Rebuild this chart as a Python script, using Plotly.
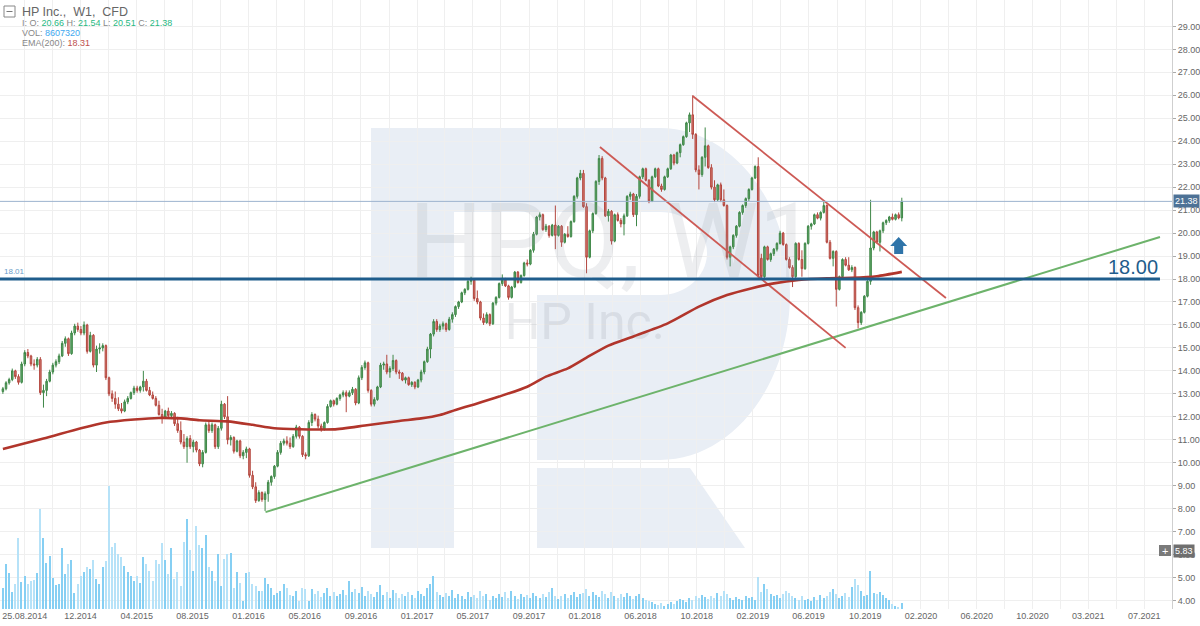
import pandas as pd
import plotly.graph_objects as go

# ---------------- data ----------------
first_week = "2014-07-07"
n_weeks = 289
weeks = pd.date_range(first_week, periods=n_weeks, freq="7D")

opens = [
    13.10,13.22,13.48,13.62,14.00,13.75,13.50,14.30,14.80,14.65,  # 0
    14.30,14.25,14.50,13.05,13.15,13.55,13.95,14.25,14.40,14.65,  # 10
    15.20,15.40,14.75,15.65,15.95,15.80,15.65,16.00,14.85,15.55,  # 20
    14.25,14.95,15.00,15.10,13.70,13.00,12.80,12.55,12.35,12.25,  # 30
    12.65,12.80,13.05,13.25,13.15,13.30,13.55,13.15,12.95,12.80,  # 40
    12.50,12.10,11.95,12.25,12.05,12.15,11.70,11.40,10.90,10.70,  # 50
    11.05,10.70,10.90,10.55,9.95,10.45,11.65,11.40,11.65,10.70,   # 60
    11.50,12.55,12.00,11.00,11.10,10.50,10.95,10.30,10.45,10.60,  # 70
    9.45,8.95,8.35,8.70,8.40,8.65,9.15,9.40,9.85,10.45,          # 80
    10.85,10.95,10.85,10.70,11.15,11.55,11.15,10.35,10.30,11.75,  # 90
    12.10,11.90,11.60,11.45,11.75,12.45,12.70,12.55,12.80,12.95,  # 100
    13.05,12.90,13.05,13.20,12.60,13.70,14.15,14.35,13.15,12.55,  # 110
    12.75,13.30,14.25,14.30,13.95,14.10,14.45,13.95,13.90,13.60,  # 120
    13.70,13.40,13.50,13.30,13.60,13.95,14.40,14.95,15.60,16.15,  # 130
    15.80,15.95,16.05,15.80,16.25,16.45,16.80,17.00,17.40,17.55,  # 140
    17.90,17.95,17.15,17.00,16.30,16.10,16.45,16.05,16.95,17.20,  # 150
    17.80,17.95,17.70,17.20,17.65,18.30,17.85,18.15,18.70,18.65,  # 160
    19.25,19.95,20.70,20.80,20.15,20.30,19.90,20.35,19.90,20.30,  # 170
    19.60,19.95,19.85,20.50,21.60,22.40,22.60,21.15,18.95,20.10,  # 180
    20.85,22.25,23.25,22.40,20.75,20.95,19.65,20.80,20.55,20.40,  # 190
    20.75,21.60,21.70,20.80,21.60,22.45,22.80,22.30,21.40,22.45,  # 200
    22.80,22.05,21.90,22.45,22.80,23.40,23.05,23.50,23.85,24.20,  # 210
    24.80,25.15,24.30,22.75,22.55,23.30,23.80,22.85,22.00,21.45,  # 220
    22.10,21.45,21.20,18.95,19.40,19.90,20.30,20.90,21.20,21.50,  # 230
    21.90,22.40,22.90,18.90,18.10,19.40,18.85,19.10,19.30,19.55,  # 240
    20.00,19.50,18.85,18.50,18.10,19.55,18.85,18.45,19.55,20.30,  # 250
    20.40,20.80,20.65,20.90,21.20,19.60,18.90,19.20,17.55,18.10,  # 260
    18.85,18.60,18.40,18.50,16.75,16.10,16.55,17.25,17.90,19.35,  # 270
    20.05,19.60,20.10,20.45,20.55,20.70,20.60,20.80,20.66,        # 280
]
highs = [
    13.30,13.55,13.70,14.10,14.05,13.85,14.40,14.90,14.95,14.70,
    14.50,14.60,14.60,13.40,13.65,14.05,14.35,14.50,14.75,15.30,
    15.50,15.45,15.75,16.05,16.10,15.95,16.15,16.05,15.70,15.60,
    15.10,15.20,15.20,15.15,13.75,13.15,13.10,12.85,12.60,12.75,
    12.90,13.10,13.35,13.35,13.35,14.00,13.65,13.30,13.10,12.90,
    12.70,12.35,12.30,12.40,12.25,12.20,12.00,11.80,11.25,11.15,
    11.20,11.00,10.95,10.60,10.55,11.75,11.85,11.75,11.70,11.60,
    12.70,12.60,12.90,11.20,11.15,11.00,11.00,10.55,10.70,10.65,
    9.65,9.15,8.80,8.75,8.75,9.25,9.45,9.90,10.55,10.95,
    11.05,11.15,11.10,11.25,11.65,11.60,11.20,10.45,11.85,12.20,
    12.15,12.05,11.70,11.80,12.55,12.75,12.75,12.85,13.00,13.15,
    13.15,13.15,13.30,13.25,13.80,14.25,14.45,14.40,13.20,12.85,
    13.35,14.35,14.40,14.70,14.20,14.70,14.50,14.05,13.95,13.75,
    13.75,13.55,13.55,13.65,14.05,14.45,15.05,15.65,16.25,16.25,
    16.05,16.15,16.10,16.35,16.55,16.85,17.05,17.45,17.60,17.95,
    18.10,18.00,17.50,17.05,16.50,16.55,16.50,17.00,17.25,17.85,
    18.20,18.05,17.75,17.70,18.35,18.35,18.20,18.75,18.85,19.30,
    20.05,20.75,20.90,20.85,20.40,20.35,20.40,21.20,20.35,20.35,
    20.00,20.30,20.55,21.65,22.45,22.75,22.75,21.30,20.15,20.90,
    22.30,23.40,23.35,22.45,21.05,21.00,20.85,20.90,20.65,20.85,
    21.65,21.80,21.75,21.70,22.50,22.85,22.85,22.35,22.50,22.85,
    22.85,22.15,22.50,22.85,23.45,23.45,23.55,23.90,24.25,24.85,
    25.25,26.00,24.35,22.95,23.35,24.60,23.85,23.00,22.30,22.15,
    22.20,21.90,21.25,19.45,19.95,20.35,20.95,21.25,21.55,21.95,
    22.45,22.95,23.30,19.10,19.45,19.45,19.15,19.35,19.60,20.10,
    20.05,19.55,18.95,18.60,19.60,19.60,19.25,19.60,20.35,20.45,
    20.85,20.90,20.95,21.35,21.25,19.70,19.25,19.25,18.15,18.90,
    18.95,18.95,18.60,18.55,16.85,16.60,17.30,17.95,21.45,20.10,
    20.10,20.15,20.50,20.60,20.75,20.85,20.85,20.90,21.54,
]
lows = [
    13.00,13.15,13.40,13.55,13.65,13.40,13.45,14.20,14.55,14.20,
    14.05,14.15,12.95,12.40,12.90,13.50,13.85,14.15,14.30,14.60,
    15.05,14.65,14.70,15.55,15.70,15.55,15.55,14.75,14.80,14.15,
    13.95,14.75,14.85,13.60,12.90,12.65,12.35,12.25,12.15,12.20,
    12.55,12.75,12.95,13.05,13.05,13.10,13.10,12.90,12.75,12.45,
    12.05,11.70,11.90,11.95,11.90,11.60,11.30,10.80,10.60,10.00,
    10.60,10.45,10.45,9.85,9.80,10.40,11.30,11.30,10.60,10.60,
    11.40,11.90,10.80,10.75,10.40,10.45,10.20,10.15,10.20,9.35,
    8.85,8.25,8.30,8.30,7.90,8.30,9.00,9.30,9.80,10.35,
    10.75,10.75,10.60,10.65,11.05,11.05,10.25,10.15,10.25,11.60,
    11.80,11.50,11.35,11.40,11.70,12.40,12.45,12.50,12.70,12.85,
    12.20,12.85,12.95,12.50,12.55,13.60,14.05,13.05,12.45,12.45,
    12.70,13.25,14.05,13.85,13.70,14.00,13.85,13.65,13.55,13.45,
    13.35,13.30,13.20,13.25,13.50,13.85,14.35,14.55,15.50,15.70,
    15.70,15.80,15.70,15.75,16.10,16.35,16.70,16.95,17.30,17.50,
    17.75,17.05,16.90,16.20,16.00,16.05,15.95,16.00,16.85,17.15,
    17.70,17.65,17.10,17.15,17.60,17.80,17.80,18.10,18.55,18.60,
    19.15,19.90,20.55,20.10,20.05,19.80,19.85,19.30,19.85,19.40,
    19.55,19.80,19.80,20.45,21.50,22.30,21.10,18.25,18.90,20.00,
    20.80,22.10,22.30,20.70,20.50,19.50,19.60,20.50,20.25,19.90,
    20.70,21.45,20.70,20.30,21.50,22.35,22.25,21.30,21.35,22.40,
    22.00,21.80,21.85,22.40,22.75,22.95,23.00,23.30,23.80,24.15,
    24.40,24.10,22.65,21.90,22.45,22.90,22.80,21.90,21.35,21.40,
    21.35,21.15,18.85,18.55,19.30,19.80,20.25,20.80,21.10,21.40,
    21.85,22.35,18.05,18.00,18.05,18.80,18.75,19.00,19.20,19.50,
    19.45,18.80,18.45,17.65,18.05,18.80,18.10,18.40,19.50,20.15,
    20.35,20.60,20.55,20.85,19.55,18.85,18.55,16.80,17.50,18.05,
    18.55,18.35,18.30,16.65,15.85,16.00,16.50,17.20,17.75,19.25,
    19.55,19.20,20.00,20.35,20.45,20.55,20.55,20.60,20.51,
]
closes = [
    13.22,13.48,13.62,14.00,13.75,13.50,14.30,14.80,14.65,14.30,
    14.25,14.50,13.05,13.15,13.55,13.95,14.25,14.40,14.65,15.20,
    15.40,14.75,15.65,15.95,15.80,15.65,16.00,14.85,15.55,14.25,
    14.95,15.00,15.10,13.70,13.00,12.80,12.55,12.35,12.25,12.65,
    12.80,13.05,13.25,13.15,13.30,13.55,13.15,12.95,12.80,12.50,
    12.10,11.95,12.25,12.05,12.15,11.70,11.40,10.90,10.70,11.05,
    10.70,10.90,10.55,9.95,10.45,11.65,11.40,11.65,10.70,11.50,
    12.55,12.00,11.00,11.10,10.50,10.95,10.30,10.45,10.60,9.45,
    8.95,8.35,8.70,8.40,8.65,9.15,9.40,9.85,10.45,10.85,
    10.95,10.85,10.70,11.15,11.55,11.15,10.35,10.30,11.75,12.10,
    11.90,11.60,11.45,11.75,12.45,12.70,12.55,12.80,12.95,13.05,
    12.90,13.05,13.20,12.60,13.70,14.15,14.35,13.15,12.55,12.75,
    13.30,14.25,14.30,13.95,14.10,14.45,13.95,13.90,13.60,13.70,
    13.40,13.50,13.30,13.60,13.95,14.40,14.95,15.60,16.15,15.80,
    15.95,16.05,15.80,16.25,16.45,16.80,17.00,17.40,17.55,17.90,
    17.95,17.15,17.00,16.30,16.10,16.45,16.05,16.95,17.20,17.80,
    17.95,17.70,17.20,17.65,18.30,17.85,18.15,18.70,18.65,19.25,
    19.95,20.70,20.80,20.15,20.30,19.90,20.35,19.90,20.30,19.60,
    19.95,19.85,20.50,21.60,22.40,22.60,21.15,18.95,20.10,20.85,
    22.25,23.25,22.40,20.75,20.95,19.65,20.80,20.55,20.40,20.75,
    21.60,21.70,20.80,21.60,22.45,22.80,22.30,21.40,22.45,22.80,
    22.05,21.90,22.45,22.80,23.40,23.05,23.50,23.85,24.20,24.80,
    25.15,24.30,22.75,22.55,23.30,23.80,22.85,22.00,21.45,22.10,
    21.45,21.20,18.95,19.40,19.90,20.30,20.90,21.20,21.50,21.90,
    22.40,22.90,18.15,18.10,19.40,18.85,19.10,19.30,19.55,20.00,
    19.50,18.85,18.50,18.10,19.55,18.85,18.45,19.55,20.30,20.40,
    20.80,20.65,20.90,21.20,19.60,18.90,19.20,17.55,18.10,18.85,
    18.60,18.40,18.50,16.75,16.10,16.55,17.25,17.90,19.35,20.05,
    19.60,20.10,20.45,20.55,20.70,20.60,20.80,20.66,21.38,
]
volumes_m = [  # weekly volume, millions
    32,68,54,26,38,106,40,50,38,42,
    44,54,150,106,69,80,46,36,38,92,
    52,68,74,24,38,50,56,63,60,74,
    45,38,63,72,185,93,99,82,78,64,
    56,50,42,50,39,78,68,57,42,74,
    68,99,74,52,92,45,56,34,100,135,
    88,57,124,96,92,111,63,57,42,82,
    34,75,82,84,32,56,39,12,54,56,
    38,34,27,27,46,38,32,21,24,27,
    38,32,21,20,27,12,32,30,12,30,
    22,27,18,24,32,20,26,19,23,28,
    21,42,25,30,24,33,19,27,22,18,
    26,36,21,25,17,29,24,16,22,19,
    25,21,17,27,23,20,31,38,50,26,
    21,18,24,20,28,17,22,19,15,25,
    18,21,16,27,19,23,14,20,17,22,
    18,25,16,27,20,15,23,18,21,17,
    24,19,16,22,18,26,32,20,15,19,
    23,17,21,25,18,22,24,30,20,26,
    21,18,27,23,17,25,19,16,22,18,
    24,20,15,19,23,17,14,12,10,8,
    6,9,5,7,10,8,12,15,13,11,
    16,14,19,17,21,18,15,20,16,24,
    19,27,22,17,14,18,15,13,20,16,
    18,14,48,25,38,30,23,19,21,17,
    22,27,24,20,16,14,19,13,15,12,
    18,14,21,17,19,25,30,22,16,20,
    24,18,33,45,36,27,19,21,57,24,
    23,25,21,16,14,8,4,2,8.6,
]
assert len(opens) == len(highs) == len(lows) == len(closes) == len(volumes_m) == n_weeks

# EMA(200) (week index, value)
ema_week_idx = [0, 13, 25, 33, 42, 50, 57, 63, 72, 80, 87, 95, 106, 116, 127, 134, 140,
                145, 151, 159, 168, 174, 181, 187, 194, 202, 213, 223, 232, 240, 247,
                255, 264, 272, 280, 288]
ema_values = [10.6, 11.05, 11.5, 11.75, 11.88, 11.95, 11.93, 11.85, 11.8, 11.65, 11.5,
              11.46, 11.45, 11.62, 11.82, 11.93, 12.08, 12.3, 12.54, 12.88, 13.31, 13.75,
              14.11, 14.58, 15.1, 15.5, 16.07, 16.8, 17.3, 17.6, 17.81, 17.96, 18.03,
              18.05, 18.12, 18.31]

# drawn lines (date, price)
support_dates = ["2016-02-16", "2021-08-14"]
support_prices = [7.85, 19.83]
channel_top_dates = ["2018-10-01", "2020-04-21"]
channel_top_prices = [25.97, 17.17]
channel_bot_dates = ["2018-03-07", "2019-09-09"]
channel_bot_prices = [23.75, 15.0]
level_price = 18.0
level_end_date = "2021-08-14"
last_close = 21.38
arrow_date = "2020-01-06"
arrow_price = 19.83

tick_dates = [
    "2014-08-25", "2014-10-27", "2014-12-28", "2015-03-01", "2015-05-03", "2015-07-05",
    "2015-09-05", "2015-11-07", "2016-01-09", "2016-03-12", "2016-05-14", "2016-07-16",
    "2016-09-17", "2016-11-19", "2017-01-21", "2017-03-24", "2017-05-26", "2017-07-28",
    "2017-09-29", "2017-12-01", "2018-02-01", "2018-04-04", "2018-06-06", "2018-08-08",
    "2018-10-10", "2018-12-12", "2019-02-13", "2019-04-17", "2019-06-18", "2019-08-21",
    "2019-10-23", "2019-12-24", "2020-02-25", "2020-04-27", "2020-06-29", "2020-08-31",
    "2020-11-01", "2021-01-03", "2021-03-06", "2021-05-08", "2021-07-10",
]
tick_labels = [
    "25.08.2014", "", "12.2014", "", "04.2015", "", "08.2015", "", "01.2016", "",
    "05.2016", "", "09.2016", "", "01.2017", "", "05.2017", "", "09.2017", "",
    "01.2018", "", "06.2018", "", "10.2018", "", "02.2019", "", "06.2019", "",
    "10.2019", "", "02.2020", "", "06.2020", "", "10.2020", "", "03.2021", "",
    "07.2021",
]
price_ticks = list(range(4, 30))

# ---------------- figure ----------------
W, H = 1200, 626
ML, MR, MT, MB = 0, 28, 0, 17
PW, PH = W - ML - MR, H - MT - MB
x_range = ["2014-06-30 12:00", "2021-09-10"]
y_range = [3.63, 30.15]
vol_range = [0, PH * 1.5]


def pp(x, y):
    """pixel inside plot area -> paper coords"""
    return x / PW, 1 - y / PH


def path_px(points_cmds):
    out = []
    for cmd, pts in points_cmds:
        coords = []
        for (x, y) in pts:
            px_, py_ = pp(x, y)
            coords.append(f"{px_:.5f},{py_:.5f}")
        out.append(cmd + " " + " ".join(coords))
    return " ".join(out) + " Z"


fig = go.Figure()

logo_col = "#e9eef5"
shapes = []
# R logo watermark
shapes.append(dict(type="rect", xref="paper", yref="paper", layer="below",
                   x0=pp(371, 0)[0], x1=pp(454, 0)[0], y0=pp(0, 548)[1], y1=pp(0, 128)[1],
                   fillcolor=logo_col, line=dict(width=0)))
bowl = path_px([
    ("M", [(454, 128)]),
    ("L", [(660, 128)]),
    ("C", [(731.8, 128), (790, 202.4), (790, 294)]),
    ("C", [(790, 385.6), (731.8, 460), (660, 460)]),
    ("L", [(537, 460)]),
    ("L", [(537, 212)]),
    ("L", [(454, 212)]),
])
shapes.append(dict(type="path", xref="paper", yref="paper", layer="below", path=bowl,
                   fillcolor=logo_col, line=dict(width=0)))
hole = path_px([
    ("M", [(537, 212)]),
    ("L", [(660, 212)]),
    ("C", [(686, 212), (707, 230), (707, 253)]),
    ("C", [(707, 276), (686, 295), (660, 295)]),
    ("L", [(537, 295)]),
])
shapes.append(dict(type="path", xref="paper", yref="paper", layer="below", path=hole,
                   fillcolor="white", line=dict(width=0)))
leg = path_px([
    ("M", [(537, 468)]),
    ("L", [(690, 468)]),
    ("L", [(745, 548)]),
    ("L", [(537, 548)]),
])
shapes.append(dict(type="path", xref="paper", yref="paper", layer="below", path=leg,
                   fillcolor=logo_col, line=dict(width=0)))

# last price line
shapes.append(dict(type="line", xref="paper", yref="y", x0=0, x1=1, y0=last_close, y1=last_close,
                   line=dict(color="#9db3cf", width=1), layer="above"))
# key level
shapes.append(dict(type="line", xref="x", yref="y", x0=x_range[0], x1=level_end_date,
                   y0=level_price, y1=level_price, line=dict(color="#1f5d8c", width=3), layer="above"))
# arrow
shapes.append(dict(type="path", xref="x", yref="y", xsizemode="pixel", ysizemode="pixel",
                   xanchor=arrow_date, yanchor=arrow_price,
                   path="M -8.5,-9 L 0,0 L 8.5,-9 L 4.5,-9 L 4.5,-17 L -4.5,-17 L -4.5,-9 Z",
                   fillcolor="#2f74a9", line=dict(width=0), layer="above"))
# legend minus box
shapes.append(dict(type="rect", xref="paper", yref="paper",
                   x0=pp(4, 0)[0], x1=pp(15, 0)[0], y0=pp(0, 17)[1], y1=pp(0, 6)[1],
                   line=dict(color="#888", width=1), fillcolor="white", layer="above"))
shapes.append(dict(type="line", xref="paper", yref="paper",
                   x0=pp(6.5, 0)[0], x1=pp(12.5, 0)[0], y0=pp(0, 11.5)[1], y1=pp(0, 11.5)[1],
                   line=dict(color="#777", width=1), layer="above"))
# "+" box on the axis
shapes.append(dict(type="rect", xref="paper", yref="paper",
                   x0=pp(1159, 0)[0], x1=pp(1171, 0)[0], y0=pp(0, 556)[1], y1=pp(0, 545)[1],
                   line=dict(width=0), fillcolor="#7a7a7a", layer="above"))

# watermark text (drawn first, beneath candles)
fig.add_trace(go.Scatter(x=["2018-04-05"], y=[19.2], mode="text", text=["HPQ, W1"],
                         textfont=dict(family="Roboto", size=104, color="rgba(150,155,165,0.17)"),
                         hoverinfo="skip", showlegend=False))
fig.add_trace(go.Scatter(x=["2018-02-01"], y=[15.95], mode="text", text=["HP Inc."],
                         textfont=dict(family="Roboto", size=50, color="rgba(150,155,165,0.2)"),
                         hoverinfo="skip", showlegend=False))

# volume
vol_colors = ["#86cff3" if c >= o else "#b6e2f8" for o, c in zip(opens, closes)]
fig.add_trace(go.Bar(x=weeks, y=volumes_m, yaxis="y2", marker=dict(color=vol_colors, line=dict(width=0)),
                     width=7 * 24 * 3600 * 1000 * 0.45, hoverinfo="skip", showlegend=False))

# trend lines
fig.add_trace(go.Scatter(x=support_dates, y=support_prices, mode="lines",
                         line=dict(color="#6db36b", width=2), hoverinfo="skip", showlegend=False))
fig.add_trace(go.Scatter(x=channel_top_dates, y=channel_top_prices, mode="lines",
                         line=dict(color="#cd5a55", width=1.8), hoverinfo="skip", showlegend=False))
fig.add_trace(go.Scatter(x=channel_bot_dates, y=channel_bot_prices, mode="lines",
                         line=dict(color="#cd5a55", width=1.8), hoverinfo="skip", showlegend=False))

# candles
fig.add_trace(go.Candlestick(
    x=weeks, open=opens, high=highs, low=lows, close=closes,
    increasing=dict(line=dict(color="#3f8748", width=1), fillcolor="#62a96a"),
    decreasing=dict(line=dict(color="#b3463e", width=1), fillcolor="#d57b71"),
    whiskerwidth=0, hoverinfo="skip", showlegend=False))

# EMA 200
fig.add_trace(go.Scatter(x=[weeks[i] for i in ema_week_idx], y=ema_values, mode="lines",
                         line=dict(color="#b1352b", width=2.6, shape="spline", smoothing=0.6),
                         hoverinfo="skip", showlegend=False))

green = "#27b882"
annotations = [
    dict(xref="paper", yref="paper", x=pp(20, 0)[0], y=pp(0, 11.5)[1], xanchor="left", yanchor="middle",
         showarrow=False, text="HP Inc.,  W1,  CFD", font=dict(family="Liberation Sans", size=12.5, color="#666")),
    dict(xref="paper", yref="paper", x=pp(20, 0)[0], y=pp(0, 22.7)[1], xanchor="left", yanchor="middle",
         showarrow=False,
         text=(f"I: O: <span style='color:{green}'>20.66</span> H: <span style='color:{green}'>21.54</span> "
               f"L: <span style='color:{green}'>20.51</span> C: <span style='color:{green}'>21.38</span>"),
         font=dict(family="Liberation Sans", size=9, color="#888")),
    dict(xref="paper", yref="paper", x=pp(20, 0)[0], y=pp(0, 33)[1], xanchor="left", yanchor="middle",
         showarrow=False, text="VOL: <span style='color:#3ea8ef'>8607320</span>",
         font=dict(family="Liberation Sans", size=9, color="#888")),
    dict(xref="paper", yref="paper", x=pp(20, 0)[0], y=pp(0, 43)[1], xanchor="left", yanchor="middle",
         showarrow=False, text="EMA(200): <span style='color:#c0504d'>18.31</span>",
         font=dict(family="Liberation Sans", size=9, color="#888")),
    dict(xref="paper", yref="y", x=pp(2, 0)[0], y=level_price, xanchor="left", yanchor="bottom", yshift=1,
         showarrow=False, text="18.01", font=dict(family="Liberation Sans", size=8, color="#6a9cc9")),
    dict(xref="x", yref="y", x=level_end_date, y=level_price, xanchor="right", yanchor="bottom", yshift=-1,
         showarrow=False, text="18.00", font=dict(family="Liberation Sans", size=20, color="#1f5d8c")),
    dict(xref="paper", yref="y", x=1, y=last_close, xanchor="left", yanchor="middle", xshift=1,
         showarrow=False, text="21.38", bgcolor="#4e7296", borderpad=1,
         font=dict(family="Liberation Sans", size=9, color="white")),
    dict(xref="paper", yref="paper", x=1, y=pp(0, 550.5)[1], xanchor="left", yanchor="middle", xshift=1,
         showarrow=False, text="5.83", bgcolor="#6f6f6f", borderpad=1,
         font=dict(family="Liberation Sans", size=9, color="white")),
    dict(xref="paper", yref="paper", x=pp(1165, 0)[0], y=pp(0, 550.5)[1], xanchor="center", yanchor="middle",
         showarrow=False, text="+", font=dict(family="Liberation Sans", size=11, color="white")),
]

fig.update_layout(
    width=W, height=H, margin=dict(l=ML, r=MR, t=MT, b=MB),
    paper_bgcolor="white", plot_bgcolor="white",
    shapes=shapes, annotations=annotations, hovermode=False, showlegend=False,
    font=dict(family="Liberation Sans"),
    bargap=0,
    xaxis=dict(type="date", range=x_range, rangeslider=dict(visible=False),
               tickmode="array", tickvals=tick_dates, ticktext=tick_labels,
               showgrid=True, gridcolor="#efefef", gridwidth=1, ticks="", zeroline=False,
               tickfont=dict(size=9, color="#666"), showline=False),
    yaxis=dict(side="right", range=y_range, tickmode="array", tickvals=price_ticks,
               ticktext=[f"{v:.2f}" for v in price_ticks], showgrid=True, gridcolor="#efefef",
               ticks="outside", ticklen=3, tickcolor="#aaa", tickfont=dict(size=9, color="#666"),
               showline=True, linecolor="#cfcfcf", zeroline=False),
    yaxis2=dict(overlaying="y", range=vol_range, visible=False, fixedrange=True),
)

fig.write_html("out.html", config={"displayModeBar": False},
               post_script="document.body.style.margin='0px';document.body.style.padding='0px';")
